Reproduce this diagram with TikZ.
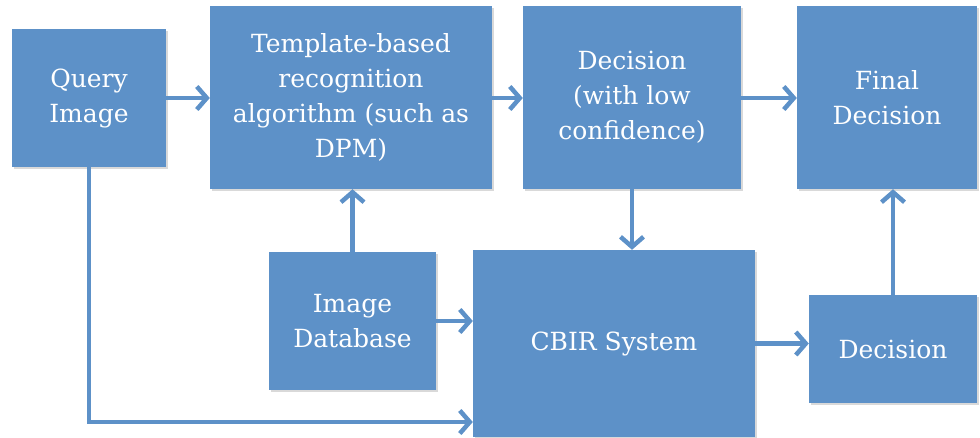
\documentclass[tikz,border=0pt]{standalone}
\usepackage{fontspec}
\setmainfont{DejaVu Serif}
\usetikzlibrary{arrows.meta,shadows}
\definecolor{boxblue}{RGB}{93,145,200}
\tikzset{
  box/.style={rectangle, fill=boxblue, draw=none, text=white, align=center,
    font=\fontsize{25}{35}\selectfont, inner sep=2pt,
    drop shadow={shadow xshift=1.5pt, shadow yshift=-1.5pt, opacity=0.25, fill=black!60}},
  link/.style={draw=boxblue, line width=4.5pt,
    -{Straight Barb[length=10pt,width=23pt,line width=4.5pt]}},
}
\begin{document}
\begin{tikzpicture}[x=1pt,y=-1pt]
  \useasboundingbox (0,0) rectangle (980,437);
  % top row
  \node[box, minimum width=154pt, minimum height=138pt] (q) at (89,98) {Query\\Image};
  \node[box, minimum width=282pt, minimum height=183pt] (t) at (351,97.5)
    {Template-based\\recognition\\algorithm (such as\\DPM)};
  \node[box, minimum width=218pt, minimum height=183pt] (d) at (632,97.5)
    {Decision\\(with low\\confidence)};
  \node[box, minimum width=180pt, minimum height=183pt] (f) at (887,97.5) {Final\\Decision};
  % bottom row
  \node[box, minimum width=167pt, minimum height=138pt] (db) at (352.5,321) {Image\\Database};
  \node[box, minimum width=282pt, minimum height=187pt] (c) at (614,343.5) {CBIR System};
  \node[box, minimum width=168pt, minimum height=108pt] (dec) at (893,349) {Decision};
  % connectors
  \coordinate (qlow) at (89,422);
  \draw[link] (q.east) -- (q.east -| t.west);
  \draw[link] (t.east |- q.east) -- (q.east -| d.west);
  \draw[link] (d.east |- q.east) -- (q.east -| f.west);
  \draw[link] (d.south) -- (d.south |- c.north);
  \draw[link] (db.north) -- (db.north |- t.south);
  \draw[link] (db.east) -- (db.east -| c.west);
  \draw[link] (q.south) |- (c.west |- qlow);
  \draw[link] (c.east) -- (c.east -| dec.west);
  \draw[link] (dec.north) -- (dec.north |- f.south);
\end{tikzpicture}
\end{document}
